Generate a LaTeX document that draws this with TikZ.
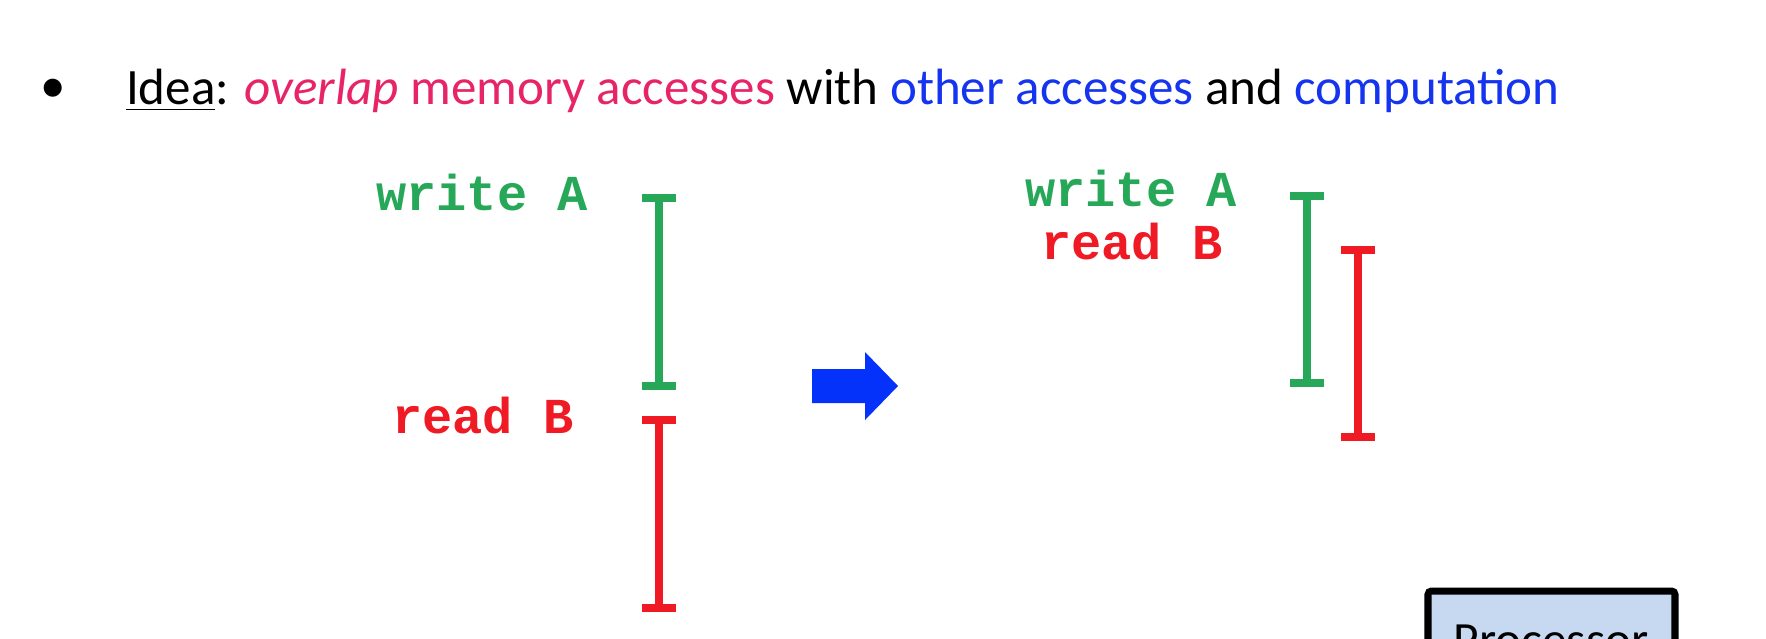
\documentclass[tikz,border=0pt]{standalone}
\usepackage{fontspec}
\setmainfont{Carlito}
\newfontfamily\codefont{Liberation Mono}
\usepackage{xcolor}

\definecolor{accpink}{RGB}{232,36,104}
\definecolor{accblue}{RGB}{20,52,240}
\definecolor{arrowblue}{RGB}{5,50,250}
\definecolor{opgreen}{RGB}{38,168,88}
\definecolor{opred}{RGB}{240,26,36}
\definecolor{procfill}{RGB}{198,217,240}

\begin{document}
\begin{tikzpicture}[x=0.01cm,y=-0.01cm,
  every node/.style={inner sep=0pt,outer sep=0pt},
  titletext/.style={font=\fontsize{14.5pt}{17pt}\selectfont},
  oplabel/.style={font=\codefont\bfseries\fontsize{14.3pt}{17pt}\selectfont},
  greenbar/.style={draw=opgreen,line width=2.2pt},
  redbar/.style={draw=opred,line width=2.2pt}]
\useasboundingbox (0,0) rectangle (1766,638);
\clip (0,0) rectangle (1766,638);
\fill[white] (0,0) rectangle (1766,638);
% heading
\node[titletext] (dot) at (53,91) {•};
\node[titletext,anchor=base west] (idea) at (126,104)
  {\underline{Idea}: \textcolor{accpink}{\textit{overlap} memory accesses} with
   \textcolor{accblue}{other accesses} and \textcolor{accblue}{computation}};
% serial: one access after the other
\node[oplabel,text=opgreen] (wrA) at (482,193) {write A};
\draw[greenbar] (642,198) -- (676,198) (659,198) -- (659,386) (642,386) -- (676,386);
\node[oplabel,text=opred] (rdB) at (483,416) {read B};
\draw[redbar] (642,420) -- (676,420) (659,420) -- (659,608) (642,608) -- (676,608);
% block arrow
\fill[arrowblue] (812,369) -- (865,369) -- (865,352) -- (898,386)
  -- (865,420) -- (865,403) -- (812,403) -- cycle;
% overlapped
\node[oplabel,text=opgreen] (wrA2) at (1131,189) {write A};
\node[oplabel,text=opred] (rdB2) at (1132,242) {read B};
\draw[greenbar] (1290,196) -- (1324,196) (1307,196) -- (1307,383) (1290,383) -- (1324,383);
\draw[redbar] (1341,250) -- (1375,250) (1358,250) -- (1358,437) (1341,437) -- (1375,437);
% processor box, cut off at the bottom
\draw[fill=procfill,line width=2pt,rounded corners=1pt] (1428,591) rectangle (1675,720);
\node[font=\fontsize{14pt}{17pt}\selectfont,anchor=base] (proc) at (1551,656) {Processor};
\end{tikzpicture}
\end{document}
